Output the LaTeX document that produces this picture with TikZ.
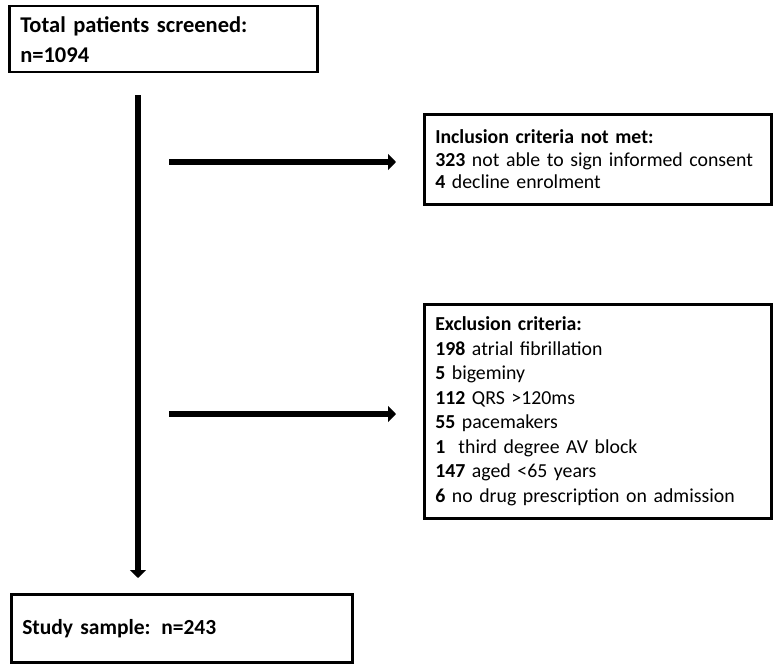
\documentclass[tikz,border=0pt]{standalone}
\usepackage{fontspec}
\setmainfont{Carlito}
\usetikzlibrary{arrows.meta,positioning}

\begin{document}
\begin{tikzpicture}[x=1pt,y=-1pt,
  box/.style={draw,line width=2.5pt,anchor=north west,align=left,inner xsep=11pt,inner ysep=0pt},
  flow/.style={line width=6.5pt,-{Triangle[length=8pt,width=16pt]}}]
  \useasboundingbox (0,0) rectangle (774,669);
  \node[box,text width=286pt,minimum height=66pt,font=\fontsize{22.5}{30}\selectfont\bfseries] (screened) at (8,5) {Total patients screened:\\n=1094};
  \node[box,text width=325pt,minimum height=90pt,font=\fontsize{19.8}{22.5}\selectfont] (incl) at (423,113) {\textbf{Inclusion criteria not met:}\\\textbf{323} not able to sign informed consent\\\textbf{4} decline enrolment};
  \node[box,text width=325pt,minimum height=214pt,font=\fontsize{19.8}{24.5}\selectfont] (excl) at (423,303) {\textbf{Exclusion criteria:}\\\textbf{198} atrial fibrillation\\\textbf{5} bigeminy\\\textbf{112} QRS >120ms\\\textbf{55} pacemakers\\\textbf{1}\ \ third degree AV block\\\textbf{147} aged <65 years\\\textbf{6} no drug prescription on admission};
  \node[box,text width=319pt,minimum height=68pt,font=\fontsize{21.5}{30}\selectfont\bfseries] (sample) at (10,593) {Study sample: n=243};
  \coordinate (trunk) at (138,95);
  \coordinate (toincl) at (169,162);
  \coordinate (toexcl) at (169,414);
  \draw[flow,shorten >=15pt] (trunk) -- (trunk |- sample.north);
  \draw[flow,shorten >=27pt] (toincl) -- (toincl -| incl.west);
  \draw[flow,shorten >=27pt] (toexcl) -- (toexcl -| excl.west);
\end{tikzpicture}
\end{document}
